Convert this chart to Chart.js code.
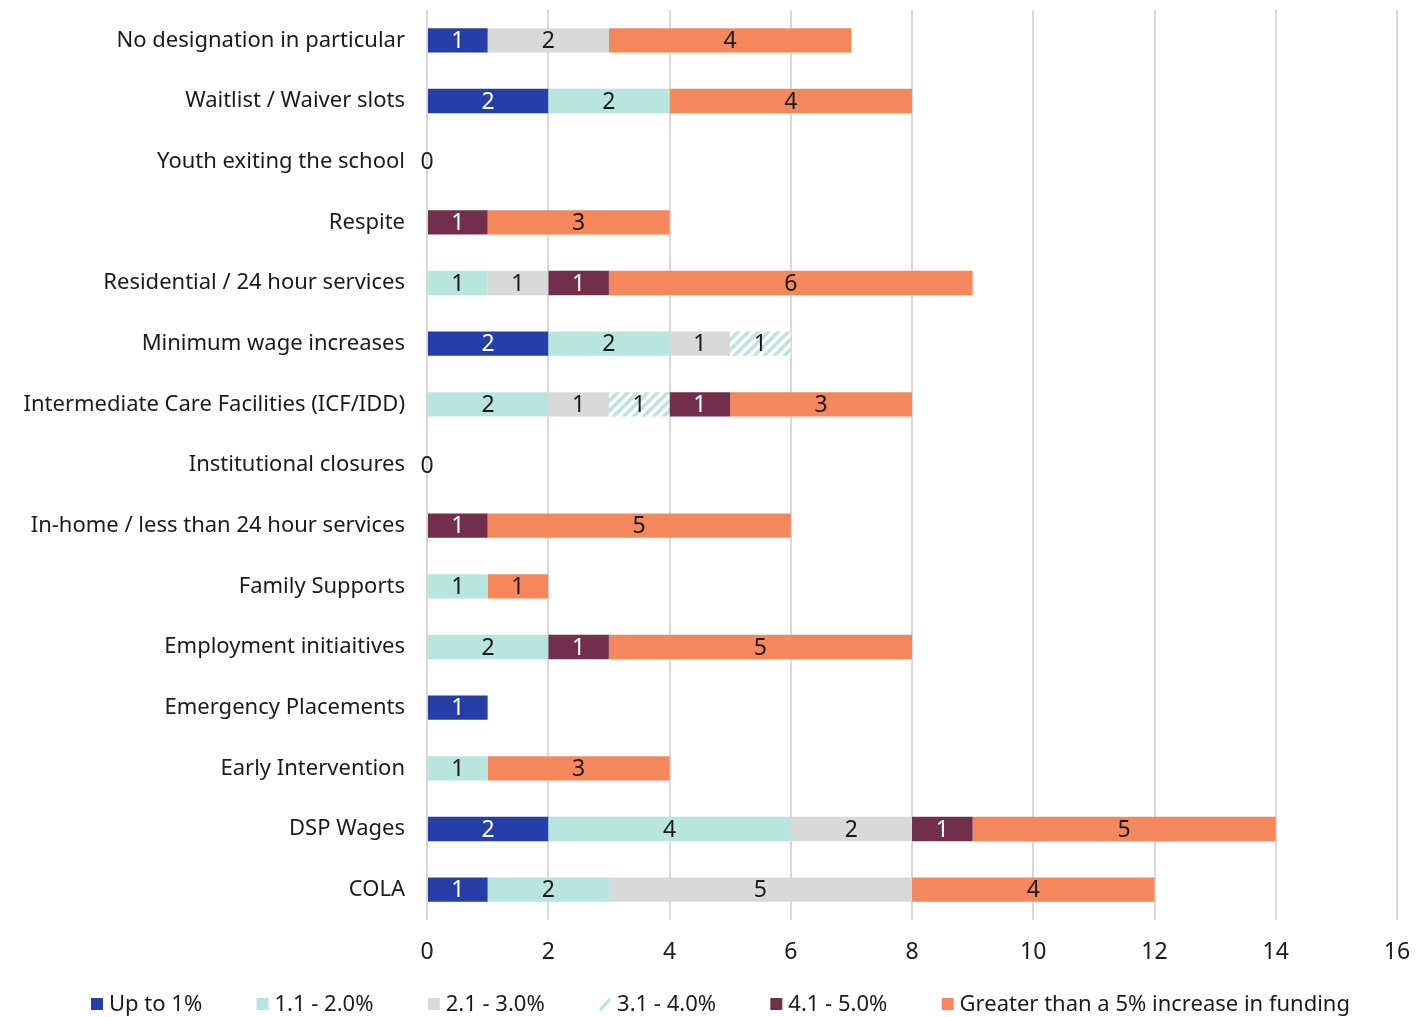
<!DOCTYPE html>
<html>
<head>
<meta charset="utf-8">
<script src="https://cdn.jsdelivr.net/npm/chart.js@4.4.0/dist/chart.umd.min.js"></script>
<style>
  html, body { margin: 0; padding: 0; background: #fff; }
  #wrap { width: 1425px; height: 1017px; position: relative; }
</style>
</head>
<body>
<div id="wrap"><canvas id="chart"></canvas></div>
<script>
const categories = [
  "No designation in particular",
  "Waitlist / Waiver slots",
  "Youth exiting the school",
  "Respite",
  "Residential / 24 hour services",
  "Minimum wage increases",
  "Intermediate Care Facilities (ICF/IDD)",
  "Institutional closures",
  "In-home / less than 24 hour services",
  "Family Supports",
  "Employment initiaitives",
  "Emergency Placements",
  "Early Intervention",
  "DSP Wages",
  "COLA",
];

const seriesNames = [
  "Up to 1%",
  "1.1 - 2.0%",
  "2.1 - 3.0%",
  "3.1 - 4.0%",
  "4.1 - 5.0%",
  "Greater than a 5% increase in funding",
];

const upTo1 = [1, 2, 0, 0, 0, 2, 0, 0, 0, 0, 0, 1, 0, 2, 1];
const from11to20 = [0, 2, 0, 0, 1, 2, 2, 0, 0, 1, 2, 0, 1, 4, 2];
const from21to30 = [2, 0, 0, 0, 1, 1, 1, 0, 0, 0, 0, 0, 0, 2, 5];
const from31to40 = [0, 0, 0, 0, 0, 1, 1, 0, 0, 0, 0, 0, 0, 0, 0];
const from41to50 = [0, 0, 0, 1, 1, 0, 1, 0, 1, 0, 1, 0, 0, 1, 0];
const over5 = [4, 4, 0, 3, 6, 0, 3, 0, 5, 1, 5, 0, 3, 5, 4];

const xTicks = [0, 2, 4, 6, 8, 10, 12, 14, 16];

const FONT = "'Noto Sans'";
const BLUE = "#263ea8";
const TEAL = "#b8e6df";
const GREY = "#d9d9d9";
const MAROON = "#722f4c";
const ORANGE = "#f4875c";
const TEXT = "#1a1a1a";

function makeHatch() {
  const c = document.createElement("canvas");
  c.width = 10;
  c.height = 10;
  const g = c.getContext("2d");
  g.fillStyle = "#fff";
  g.fillRect(0, 0, 10, 10);
  g.strokeStyle = TEAL;
  g.lineWidth = 3.5;
  g.beginPath();
  g.moveTo(-5, 15); g.lineTo(15, -5);
  g.moveTo(-5, 5); g.lineTo(5, -5);
  g.moveTo(5, 15); g.lineTo(15, 5);
  g.stroke();
  return g.createPattern(c, "repeat");
}

const hatch = makeHatch();
const seriesData = [upTo1, from11to20, from21to30, from31to40, from41to50, over5];
const fills = [BLUE, TEAL, GREY, hatch, MAROON, ORANGE];
const swatchColors = [BLUE, TEAL, GREY, TEAL, MAROON, ORANGE];
const labelColors = ["#ffffff", TEXT, TEXT, TEXT, "#ffffff", TEXT];

const barLabels = {
  id: "barLabels",
  afterDatasetsDraw(chart) {
    const ctx = chart.ctx;
    ctx.save();
    ctx.font = "23px " + FONT;
    ctx.textAlign = "center";
    ctx.textBaseline = "middle";
    chart.data.datasets.forEach((ds, di) => {
      const meta = chart.getDatasetMeta(di);
      meta.data.forEach((bar, i) => {
        const v = ds.data[i];
        if (!v) return;
        ctx.fillStyle = labelColors[di];
        ctx.fillText(String(v), (bar.x + bar.base) / 2, bar.y + 1);
      });
    });
    // categories with no responses show a single 0 label
    const xs = chart.scales.x;
    const ys = chart.scales.y;
    categories.forEach((c, i) => {
      const total = seriesData.reduce((s, arr) => s + arr[i], 0);
      if (total === 0) {
        ctx.fillStyle = TEXT;
        ctx.fillText("0", xs.getPixelForValue(0), ys.getPixelForValue(i) + 1);
      }
    });
    ctx.restore();
  },
};

// legend drawn by hand so the swatch/text spacing stays tight
const bottomLegend = {
  id: "bottomLegend",
  afterDraw(chart) {
    const ctx = chart.ctx;
    ctx.save();
    ctx.font = "22px " + FONT;
    ctx.textBaseline = "middle";
    const box = 12, gap = 6;
    const startX = 91, endX = 1350;
    const widths = seriesNames.map((n) => box + gap + ctx.measureText(n).width);
    const used = widths.reduce((a, b) => a + b, 0);
    const spacing = (endX - startX - used) / (widths.length - 1);
    let x = startX;
    const y = 1004;
    seriesNames.forEach((name, i) => {
      if (i === 3) {
        ctx.strokeStyle = TEAL;
        ctx.lineWidth = 3;
        ctx.beginPath();
        ctx.moveTo(x + 1, y + 6);
        ctx.lineTo(x + 11, y - 5);
        ctx.stroke();
      } else {
        ctx.fillStyle = swatchColors[i];
        ctx.fillRect(x, y - 6, box, box);
      }
      ctx.fillStyle = TEXT;
      ctx.fillText(name, x + box + gap, y + 1);
      x += widths[i] + spacing;
    });
    ctx.restore();
  },
};

new Chart(document.getElementById("chart"), {
  type: "bar",
  data: {
    labels: categories,
    datasets: seriesNames.map((name, i) => ({
      label: name,
      data: seriesData[i],
      backgroundColor: fills[i],
      borderWidth: 0,
      barPercentage: 0.8,
      categoryPercentage: 0.5,
    })),
  },
  options: {
    indexAxis: "y",
    responsive: true,
    maintainAspectRatio: false,
    animation: false,
    layout: { padding: { top: 10, right: 28, bottom: 47, left: 0 } },
    scales: {
      x: {
        stacked: true,
        min: 0,
        max: 16,
        afterBuildTicks: (scale) => {
          scale.ticks = xTicks.map((v) => ({ value: v }));
        },
        afterFit: (scale) => {
          scale.height = 50;
          scale.paddingLeft = 0;
          scale.paddingRight = 0;
        },
        grid: { color: "#d9d9d9", lineWidth: 2, drawTicks: false },
        border: { display: false },
        ticks: {
          padding: 19,
          color: TEXT,
          font: { family: FONT, size: 23 },
        },
      },
      y: {
        stacked: true,
        grid: { display: false },
        border: { display: false },
        afterFit: (scale) => {
          scale.width = 427;
          scale.paddingTop = 0;
          scale.paddingBottom = 0;
        },
        ticks: {
          padding: 14,
          color: TEXT,
          font: { family: FONT, size: 22 },
        },
      },
    },
    plugins: {
      legend: { display: false },
      tooltip: { enabled: false },
    },
  },
  plugins: [barLabels, bottomLegend],
});
</script>
</body>
</html>
